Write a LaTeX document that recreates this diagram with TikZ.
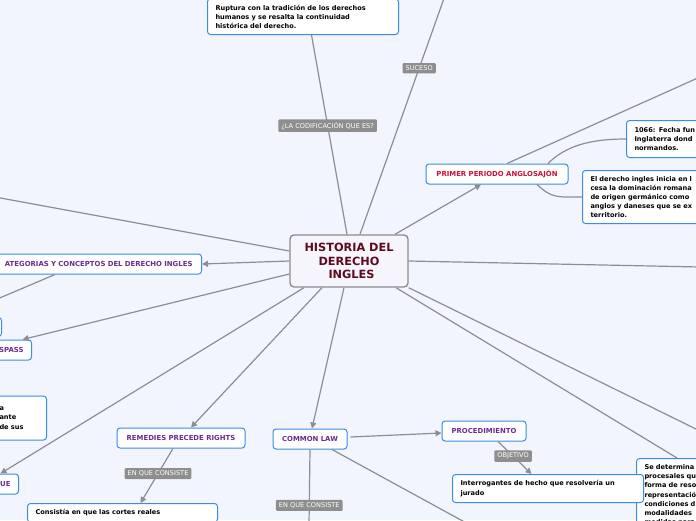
\documentclass[tikz,border=0pt]{standalone}
\usepackage{fontspec}
\setmainfont{DejaVu Sans}
\usetikzlibrary{arrows.meta,calc}

\definecolor{bgcol}{HTML}{F2F5FD}
\definecolor{linegray}{HTML}{8D8D95}
\definecolor{boxblue}{HTML}{3A8CE6}
\definecolor{topicpurple}{HTML}{6B2C91}
\definecolor{anglored}{HTML}{CC1136}
\definecolor{histred}{HTML}{5C0A1E}
\definecolor{taggray}{HTML}{8E8E8E}
\definecolor{histfill}{HTML}{F5F5FB}
\definecolor{histline}{HTML}{8B8B95}

\begin{document}
\begin{tikzpicture}[x=1pt,y=-1pt,
  conn/.style={draw=linegray,line width=1.2pt},
  arr/.style={conn,-{Triangle[length=6pt,width=6pt]}},
  central/.style={draw=histline,fill=histfill,rounded corners=4pt,line width=1.4pt,
    minimum width=118pt,minimum height=52pt,align=center,text=histred,inner sep=2pt,
    font=\fontsize{11.3}{13.5}\selectfont\bfseries},
  topic/.style={draw=boxblue,fill=white,rounded corners=3pt,line width=1pt,
    minimum height=20pt,inner xsep=8pt,inner ysep=2pt,text=topicpurple,
    font=\fontsize{6.9}{8}\selectfont\bfseries},
  note/.style={draw=boxblue,fill=white,rounded corners=3pt,line width=1pt,
    align=left,inner xsep=8pt,inner ysep=6pt,
    font=\fontsize{6.6}{9.2}\selectfont\bfseries},
  tag/.style={fill=taggray,text=white,rounded corners=1pt,inner xsep=3pt,inner ysep=2.6pt,
    font=\fontsize{6.6}{7}\selectfont}]

\useasboundingbox (0,0) rectangle (696,520);
\fill[bgcol] (0,0) rectangle (696,520);
\clip (0,0) rectangle (696,520);

% centre
\node[central] (hist) at (349,261) {HISTORIA DEL\\DERECHO\\\hspace*{5pt}INGLES};

% top and right
\node[note,anchor=south west,text width=175pt] (ruptura) at (207,35)
  {Ruptura con la tradición de los derechos\\humanos y se resalta la continuidad\\histórica del derecho.};
\node[topic,text=anglored,minimum width=142pt] (primer) at (497,174) {PRIMER PERIODO ANGLOSAJÓN};
\node[note,anchor=north west,text width=110pt,minimum height=37pt] (fecha) at (626,120)
  {1066: Fecha fun\\Inglaterra dond\\normandos.};
\node[note,anchor=north west,text width=110pt,minimum height=53pt,inner ysep=4pt] (inicio) at (582,170)
  {El derecho ingles inicia en l\\cesa la dominación romana\\de origen germánico como\\anglos y daneses que se ex\\territorio.};
\node[note,anchor=north west,text width=80pt] (sedet) at (636,458)
  {Se determina\\procesales qu\\forma de reso\\representació\\condiciones d\\modalidades\\medidas para};

% bottom
\node[topic,minimum width=84pt] (proc) at (484,431) {PROCEDIMIENTO};
\node[note,anchor=north west,text width=175pt,minimum height=28pt,inner ysep=4pt] (interrog) at (452,474)
  {Interrogantes de hecho que resolvería un\\jurado};
\node[topic,minimum width=74pt] (common) at (310,439) {COMMON LAW};
\node[topic,minimum width=128pt] (remedies) at (181,438) {REMEDIES PRECEDE RIGHTS};
\node[note,anchor=north west,text width=174pt] (consiste) at (27,503) {Consistía en que las cortes reales};

% left
\node[topic,anchor=east,text width=215pt,align=right,inner xsep=9pt] (categ) at (202,264)
  {ATEGORIAS Y CONCEPTOS DEL DERECHO INGLES};
\node[topic,anchor=east,text width=34pt,align=right] (spass) at (32,350) {SPASS};
\node[topic,anchor=east,minimum width=30pt,minimum height=19pt] (blank) at (2,327) {};
\node[note,anchor=east,text width=39pt,minimum height=44pt,inner ysep=3pt] (ante) at (47,418) {a\\ante\\de sus};
\node[topic,anchor=east,text width=20pt,align=right] (ue) at (19,484) {UE};

% free ends
\coordinate (sucesoend) at (447,-10);
\coordinate (primerend) at (700,77);
\coordinate (rightend) at (700,267);
\coordinate (lowrightend) at (700,431);
\coordinate (upleftend) at (-5,197);
\coordinate (categend) at (-5,300);
\coordinate (commondown) at (309,525);
\coordinate (commonright) at (470,525);

% connectors
\draw[conn] ([xshift=-2pt]hist.north) -- node[tag,pos=.545] {¿LA CODIFICACIÓN QUE ES?} ([xshift=8.5pt]ruptura.south);
\draw[conn] ([xshift=11pt]hist.north) -- node[tag,pos=.68] {SUCESO} (sucesoend);
\draw[arr] ([xshift=46pt]hist.north) -- ([xshift=-16pt]primer.south);
\draw[conn] ([xshift=10pt]primer.north) -- (primerend);
\draw[conn] ([xshift=51pt]primer.north) .. controls +(18,-18) and +(-35,0) .. (fecha.west);
\draw[conn] ([xshift=40pt]primer.south) .. controls +(15,14) and +(-25,0) .. (inicio.west);
\draw[conn] (hist.east) -- (rightend);
\draw[conn] (hist.south east) -- (lowrightend);
\draw[conn] ([xshift=47pt]hist.south) -- ([xshift=41pt]sedet.north west);
\draw[arr] ([xshift=-5pt]hist.south) -- ([xshift=2pt]common.north);
\draw[arr] ([xshift=-27pt]hist.south) -- ([xshift=10pt]remedies.north);
\draw[arr] ([xshift=-45pt]hist.south) -- (ue.north);
\draw[arr] (hist.west) -- (categ.east);
\draw[arr] ([yshift=-13pt]hist.west) -- ([xshift=16pt]spass.north);
\draw[conn] ([yshift=10pt]hist.west) -- (upleftend);
\draw[conn] ([xshift=-30pt]categ.south) -- (categend);
\draw[arr] ([xshift=3pt,yshift=2pt]common.east) -- ([yshift=-2pt]proc.west);
\draw[arr] ([xshift=14pt]proc.south) -- node[tag,pos=.45] {OBJETIVO} ([xshift=-16.5pt]interrog.north);
\draw[conn] (common.south) -- node[tag,pos=.74] {EN QUE CONSISTE} (commondown);
\draw[conn] ([xshift=22pt]common.south) -- (commonright);
\draw[arr] ([xshift=-8pt]remedies.south) -- node[tag,pos=.46] {EN QUE CONSISTE} ([xshift=18pt]consiste.north);
\end{tikzpicture}
\end{document}
